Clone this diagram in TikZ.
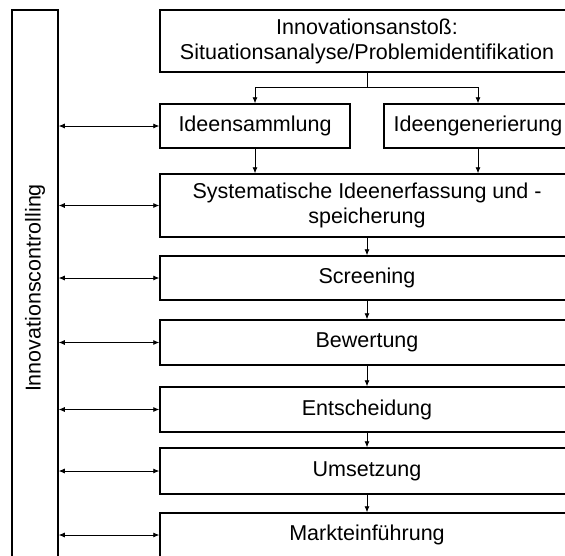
\documentclass[tikz,border=0pt]{standalone}
\usepackage{fontspec}
\setmainfont{Liberation Sans}
\usetikzlibrary{arrows.meta}

\tikzset{
	phase/.style={draw, line width=1.5pt, minimum width=414pt, minimum height=44pt, inner sep=0pt, align=center},
	conn/.style={line width=0.8pt},
}

\begin{document}
\begin{tikzpicture}[x=1pt, y=-1pt, >={Latex[length=6pt,width=5pt]}, font=\fontsize{21.5}{25}\selectfont]
	\useasboundingbox (0,0) rectangle (565,555);
	\clip (0,0) rectangle (565,555);
	% controlling bar
	\node[draw, line width=1.5pt, minimum width=46pt, minimum height=556pt, inner sep=0pt] (ctrl) at (35,288) {\rotatebox{90}{Innovationscontrolling}};
	% phases
	\node[phase, minimum height=62pt] (anstoss) at (367,41) {Innovationsansto\ss:\\Situationsanalyse/Problemidentifikation};
	\node[phase, minimum width=190pt] (sammlung) at (255,126) {Ideensammlung};
	\node[phase, minimum width=188pt] (generierung) at (478,126) {Ideengenerierung};
	\node[phase, minimum height=63pt] (erfassung) at (367,205.5) {Systematische Ideenerfassung und -\\speicherung};
	\node[phase] (screening) at (367,278) {Screening};
	\node[phase, minimum height=45pt] (bewertung) at (367,342.5) {Bewertung};
	\node[phase, minimum height=45pt] (entscheidung) at (367,409.5) {Entscheidung};
	\node[phase, minimum height=46pt] (umsetzung) at (367,471) {Umsetzung};
	\node[phase] (markt) at (367,535) {Markteinf\"uhrung};
	% flow
	\draw[conn] (anstoss.south) -- ++(0,15) coordinate (split);
	\draw[conn,->] (split) -| (sammlung.north);
	\draw[conn,->] (split) -| (generierung.north);
	\draw[conn,->] (sammlung.south) -- (sammlung.south |- erfassung.north);
	\draw[conn,->] (generierung.south) -- (generierung.south |- erfassung.north);
	\draw[conn,->] (erfassung.south) -- (screening.north);
	\draw[conn,->] (screening.south) -- (bewertung.north);
	\draw[conn,->] (bewertung.south) -- (entscheidung.north);
	\draw[conn,->] (entscheidung.south) -- (umsetzung.north);
	\draw[conn,->] (umsetzung.south) -- (markt.north);
	% controlling links
	\foreach \n in {sammlung,erfassung,screening,bewertung,entscheidung,umsetzung,markt}
		\draw[conn,<->] (ctrl.east |- \n.west) -- (\n.west);
\end{tikzpicture}
\end{document}
